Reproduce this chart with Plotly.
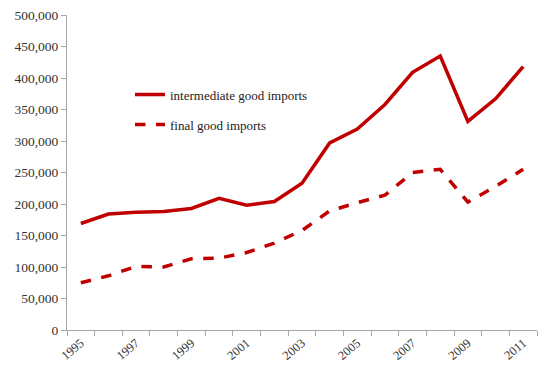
import plotly.graph_objects as go

years = list(range(1995, 2012))
intermediate = [169000, 184000, 187000, 188000, 193000, 209000, 198000, 204000, 233000,
                297000, 319000, 358000, 409000, 435000, 331000, 367000, 418000]
final = [75000, 86000, 101000, 100000, 113000, 114000, 123000, 138000, 158000,
         189000, 202000, 214000, 250000, 255000, 203000, 228000, 255000]
label_years = [1995, 1997, 1999, 2001, 2003, 2005, 2007, 2009, 2011]

red = "#C00000"
font = "Liberation Serif"

fig = go.Figure()
fig.add_trace(go.Scatter(x=years, y=intermediate, mode="lines", name="intermediate good imports",
                         line=dict(color=red, width=3.5), legendgroup="a"))
fig.add_trace(go.Scatter(x=years, y=final, mode="lines", name="final good imports",
                         line=dict(color=red, width=3.5, dash="dash"), legendgroup="b"))

fig.update_layout(
    width=540, height=366,
    margin=dict(l=67, r=3, t=15, b=36),
    paper_bgcolor="white", plot_bgcolor="white",
    font=dict(family=font, size=13, color="#333333"),
    showlegend=True,
    legend=dict(x=0.134, y=0.795, xanchor="left", yanchor="top", bgcolor="rgba(0,0,0,0)",
                font=dict(family=font, size=13, color="#222222"), tracegroupgap=10,
                itemwidth=30),
    xaxis=dict(range=[1994.5, 2011.5], tickmode="array", tickvals=label_years,
               ticktext=[str(y) for y in label_years], tickangle=-40, ticks="",
               showline=True, linecolor="#A6A6A6", linewidth=1, showgrid=False, zeroline=False,
               tickfont=dict(family=font, size=12.5, color="#333333"),
               minor=dict(tickmode="linear", tick0=1994.5, dtick=1, ticks="outside",
                          ticklen=5, tickcolor="#A6A6A6", showgrid=False)),
    yaxis=dict(range=[0, 500000], dtick=50000, tickformat=",d", ticks="outside", ticklen=5,
               tickcolor="#A6A6A6", showline=True, linecolor="#A6A6A6", linewidth=1,
               showgrid=False, zeroline=False,
               tickfont=dict(family=font, size=13.5, color="#333333")),
)

fig.write_html("out.html", config={"displayModeBar": False},
               post_script="document.body.style.margin='0';document.body.style.padding='0';")
